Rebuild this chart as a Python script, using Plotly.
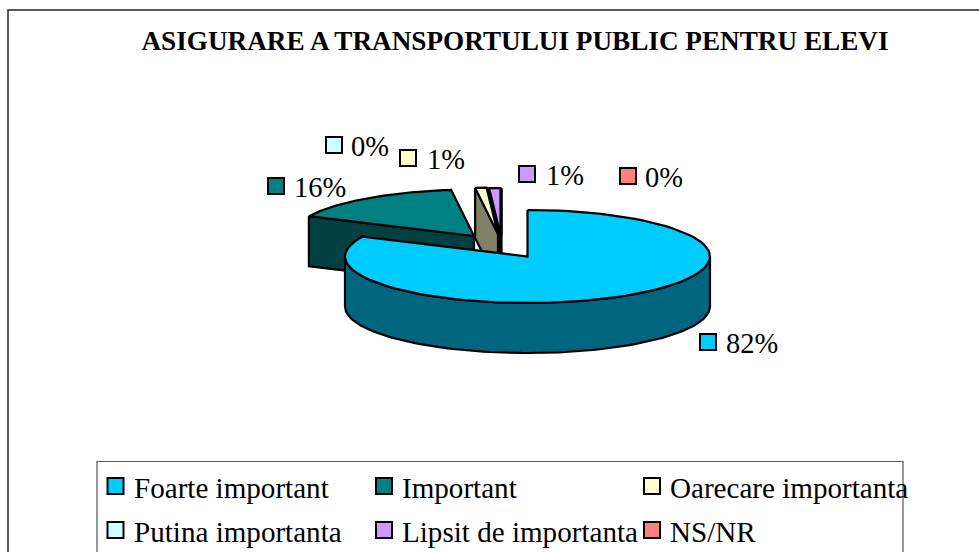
import math
import plotly.graph_objects as go

# ---- data ----
categories = ["Foarte important", "Important", "Oarecare importanta",
              "Putina importanta", "Lipsit de importanta", "NS/NR"]
values = [82, 16, 1, 0, 1, 0]
value_labels = ["82%", "16%", "1%", "0%", "1%", "0%"]
title = "ASIGURARE A TRANSPORTULUI PUBLIC PENTRU ELEVI"

# ---- styles ----
top_colors = ["#00CCFF", "#008080", "#FFFFCC", "#CCFFFF", "#CC99FF", "#FF8080"]
side_colors = ["#006680", "#004040", "#808066", "#668080", "#332640", "#201010"]
FONT = "Liberation Serif"
INK = "#000000"

# ---- layout geometry (axis units equal page pixels) ----
W, H = 979, 552
RX, RY, DEPTH = 182.5, 46.5, 50
apex_x = [527.5, 474, 498, 499, 500.5, 501.5]
apex_y = [256.5, 236, 234, 234, 234.5, 235]
label_swatch_x = [708, 276, 408, 334, 527, 628]
label_swatch_y = [342, 186, 158, 145, 174, 176]
label_text_x = [726, 294, 427, 351, 546, 645]
legend_swatch_x = [115.5, 384, 652, 115.5, 384, 652]
legend_swatch_y = [486, 486, 486, 530, 530, 530]
legend_text_x = [134, 402, 670, 134, 402, 670]


def rim(i, a, b, drop=0, n=90):
    """Points along slice i's outer rim between angles a and b (degrees clockwise from top)."""
    pts = [a + (b - a) * k / n for k in range(n + 1)]
    return ([apex_x[i] + RX * math.sin(math.radians(t)) for t in pts],
            [apex_y[i] - RY * math.cos(math.radians(t)) + drop for t in pts])


def poly(xs, ys, color, name):
    return go.Scatter(x=xs + xs[:1], y=ys + ys[:1], mode="lines", fill="toself",
                      fillcolor=color, line=dict(color=INK, width=2.2),
                      hoverinfo="skip", showlegend=False, name=name)


total = sum(values)
starts, s = [], 0.0
for v in values:
    starts.append(s)
    s += v / total * 360
ends = [a + v / total * 360 for a, v in zip(starts, values)]

traces = []


def cut_face(i):
    rx0, ry0 = rim(i, starts[i], starts[i], n=1)
    traces.append(poly([rx0[0], apex_x[i], apex_x[i], rx0[0]],
                       [ry0[0], apex_y[i], apex_y[i] + DEPTH, ry0[0] + DEPTH],
                       side_colors[i], categories[i] + " side"))


def top_face(i):
    xt, yt = rim(i, starts[i], ends[i])
    traces.append(poly(xt + [apex_x[i]], yt + [apex_y[i]], top_colors[i], categories[i]))


cut_face(1)
top_face(1)
for i in [5, 4, 3, 2]:
    cut_face(i)
for i in [2, 3, 4, 5]:
    top_face(i)

# outer wall of the front of the big slice, then its top
xt, yt = rim(0, 90, 270)
xb, yb = rim(0, 270, 90, drop=DEPTH)
traces.append(poly(xt + xb, yt + yb, side_colors[0], categories[0] + " wall"))
top_face(0)

# value labels' keys and legend keys
for xs, ys, nm in [(label_swatch_x, label_swatch_y, "label keys"),
                   (legend_swatch_x, legend_swatch_y, "legend keys")]:
    traces.append(go.Scatter(x=xs, y=ys, mode="markers", name=nm, showlegend=False,
                             hoverinfo="skip",
                             marker=dict(symbol="square", size=16, color=top_colors,
                                         line=dict(color=INK, width=2))))

fig = go.Figure(traces)

for x, y, t in zip(label_text_x, label_swatch_y, value_labels):
    fig.add_annotation(x=x, y=y + 1, text=t, showarrow=False, xanchor="left", yanchor="middle",
                       xshift=-2, font=dict(family=FONT, size=28.5, color="#000"))
for x, y, t in zip(legend_text_x, legend_swatch_y, categories):
    fig.add_annotation(x=x, y=y + 2, text=t, showarrow=False, xanchor="left", yanchor="middle",
                       xshift=-2, font=dict(family=FONT, size=29.1, color="#000"))

frame = dict(type="rect", layer="below", fillcolor="rgba(0,0,0,0)")
fig.add_shape(x0=8, y0=10, x1=W + 20, y1=H + 20, line=dict(color="#222", width=1.5), **frame)
fig.add_shape(x0=97, y0=461.5, x1=903, y1=H + 20, line=dict(color="#555", width=1.2), **frame)

fig.update_layout(
    width=W, height=H, margin=dict(l=0, r=0, t=0, b=0),
    paper_bgcolor="white", plot_bgcolor="white", showlegend=False, hovermode=False,
    title=dict(text="<b>" + title + "</b>", x=515 / W, xanchor="center", y=1 - 40 / H,
               yanchor="middle", font=dict(family=FONT, size=27.2, color="#000")),
    xaxis=dict(range=[0, W], visible=False, fixedrange=True),
    yaxis=dict(range=[H, 0], visible=False, fixedrange=True),
)
fig.write_html("out.html", config=dict(displayModeBar=False),
               post_script="document.body.style.margin='0';document.body.style.overflow='hidden';")
